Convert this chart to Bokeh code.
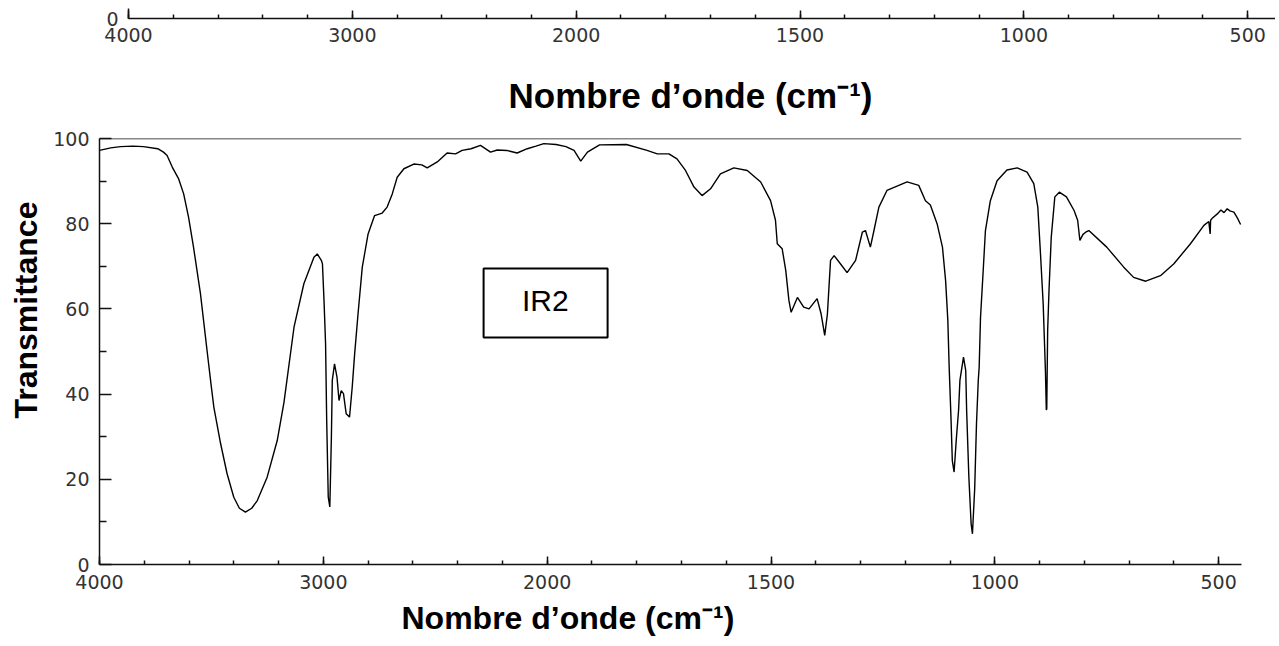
import numpy as np
from bokeh.plotting import figure
from bokeh.models import Range1d, FixedTicker, Span, BoxAnnotation, Label, Title
from bokeh.embed import file_html
from bokeh.resources import INLINE

# ---------------- data ----------------
wavenumber = [4000, 3950, 3906, 3850, 3804, 3740, 3714, 3698, 3675, 3647, 3624, 3602, 3580, 3549,
              3519, 3501, 3489, 3459, 3430, 3400, 3375, 3348, 3320, 3295, 3251, 3206, 3176, 3131,
              3087, 3042, 3027, 3009, 3004, 2997, 2990, 2985, 2978, 2971, 2964, 2960, 2950, 2939,
              2930, 2920, 2910, 2898, 2883, 2871, 2860, 2845, 2826, 2800, 2771, 2737, 2715, 2692,
              2670, 2640, 2596, 2560, 2536, 2491, 2447, 2409, 2380, 2340, 2298, 2253, 2223, 2180,
              2134, 2089, 2050, 2015, 1980, 1958, 1940, 1925, 1910, 1883, 1823, 1777, 1754, 1728,
              1710, 1691, 1672, 1654, 1635, 1613, 1583, 1553, 1523, 1501, 1490, 1486, 1475, 1467,
              1460, 1455, 1441, 1427, 1415, 1397, 1388, 1380, 1374, 1367, 1359, 1345, 1330, 1311,
              1296, 1289, 1278, 1270, 1259, 1241, 1196, 1170, 1155, 1144, 1129, 1117, 1110, 1105,
              1102, 1098, 1095, 1091, 1086, 1081, 1078, 1070, 1065, 1063, 1058, 1053, 1050, 1045,
              1041, 1037, 1035, 1032, 1026, 1021, 1010, 995, 973, 950, 928, 913, 904, 898, 892,
              887, 885, 884, 882, 879, 874, 866, 856, 840, 823, 815, 810, 803, 797, 790, 750, 712,
              690, 663, 630, 600, 563, 533, 522, 519, 518, 515, 503, 495, 488, 481, 475, 466, 458, 451]
transmittance = [97.2, 97.8, 98.1, 98.2, 98.1, 97.6, 96.8, 96.0, 93.3, 90.6, 87.0, 81.5, 74.5, 63.6,
                 50.0, 42.0, 36.9, 28.4, 21.3, 15.8, 13.2, 12.3, 13.2, 15.0, 20.5, 29.1, 38.0, 55.7,
                 65.9, 72.1, 72.9, 71.4, 70.6, 62.0, 51.8, 33.8, 15.8, 13.5, 29.9, 43.2, 47.1, 44.0,
                 38.5, 40.8, 40.1, 35.4, 34.6, 41.6, 49.5, 58.8, 69.8, 77.6, 81.9, 82.5, 83.9, 87.0,
                 90.9, 92.9, 94.0, 93.8, 93.1, 94.5, 96.6, 96.4, 97.2, 97.6, 98.4, 96.8, 97.3, 97.2,
                 96.6, 97.6, 98.2, 98.8, 98.6, 98.1, 97.2, 94.7, 96.8, 98.5, 98.6, 97.2, 96.4, 96.4,
                 95.2, 92.5, 88.6, 86.6, 88.2, 91.7, 93.1, 92.5, 89.8, 85.4, 80.8, 75.3, 74.1, 69.0,
                 62.0, 59.2, 62.7, 60.4, 60.0, 62.4, 58.8, 53.8, 58.8, 71.4, 72.5, 70.6, 68.5, 71.4,
                 78.0, 78.4, 74.5, 78.4, 83.9, 87.8, 89.8, 89.0, 85.4, 84.4, 80.0, 74.5, 66.7, 57.3,
                 46.3, 34.6, 24.4, 21.7, 29.5, 36.2, 43.2, 48.7, 45.5, 36.2, 20.5, 9.6, 7.2, 17.8,
                 33.0, 43.2, 46.3, 58.0, 69.0, 78.4, 85.4, 90.1, 92.6, 93.1, 92.1, 89.4, 83.9, 72.9, 61.2,
                 45.5, 36.3, 36.5, 55.0, 64.3, 76.8, 86.3, 87.4, 86.3, 83.1, 80.8, 76.1, 77.5, 78.0, 78.4, 74.5, 69.8,
                 67.4, 66.5, 67.8, 70.6, 75.3, 79.6, 80.5, 77.6, 80.8, 81.2, 82.3, 83.2, 82.6, 83.5, 83.0, 82.7, 81.3, 79.8]

tick_values = [4000, 3000, 2000, 1500, 1000, 500]
minor_values = list(range(4000, 1999, -200)) + list(range(1900, 399, -100))
y_ticks = [0, 20, 40, 60, 80, 100]
y_minor = [10, 30, 50, 70, 90]

xlabel = "Nombre d\u2019onde (cm\u207b\u00b9)"
ylabel = "Transmittance"
box_text = "IR2"

# ---------------- helpers ----------------
def to_u(wn):
    """Piecewise wavenumber scale of the spectrometer chart (4000-2000 drawn at half scale)."""
    wn = np.asarray(wn, dtype=float)
    return np.where(wn >= 2000, (4000 - wn) / 2.0, 1000 + (2000 - wn))

tick_u = [float(v) for v in to_u(tick_values)]
minor_u = [float(v) for v in to_u(minor_values)]
overrides = {u: str(w) for u, w in zip(tick_u, tick_values)}

TICK_FONT = "DejaVu Sans"
TICK_SIZE = "19px"
TICK_COLOR = "#333333"
LABEL_FONT = "Liberation Sans"
AX = "#111111"

def style_axis_common(ax):
    ax.axis_line_width = 1.5
    ax.major_tick_line_width = 1.5
    ax.minor_tick_line_width = 1.5
    ax.axis_line_color = AX
    ax.major_tick_line_color = AX
    ax.minor_tick_line_color = AX
    ax.major_label_text_font = TICK_FONT
    ax.major_label_text_font_size = TICK_SIZE
    ax.major_label_text_color = TICK_COLOR

def style_xaxis(ax):
    ax.ticker = FixedTicker(ticks=tick_u, minor_ticks=minor_u)
    ax.major_label_overrides = overrides
    ax.major_tick_in = 8
    ax.major_tick_out = 0
    ax.minor_tick_in = 4
    ax.minor_tick_out = 0
    style_axis_common(ax)
    ax.major_label_standoff = 10

W = 1275
FRAME_L, FRAME_R, FRAME_T, FRAME_B = 99, 1241, 138, 564

# ---------------- top strip (bottom of a previous chart) ----------------
H1 = 50
top = figure(width=W, height=H1, output_backend="svg", toolbar_location=None,
             x_range=Range1d(0, 2562), y_range=Range1d(0, 1),
             min_border_left=128, min_border_right=0, min_border_top=8, min_border_bottom=H1 - 18)
top.outline_line_color = None
top.grid.visible = False
top.background_fill_color = "white"
top.border_fill_color = "white"
style_xaxis(top.xaxis[0])
top.xaxis[0].major_label_standoff = 9
ya = top.yaxis[0]
ya.ticker = FixedTicker(ticks=[0], minor_ticks=[])
ya.major_tick_in = 0
ya.major_tick_out = 0
ya.minor_tick_in = 0
ya.minor_tick_out = 0
style_axis_common(ya)
ya.major_label_standoff = 10

# ---------------- main chart ----------------
H2 = 646 - H1
p = figure(width=W, height=H2, output_backend="svg", toolbar_location=None,
           x_range=Range1d(0, 2551), y_range=Range1d(0, 100),
           min_border_left=FRAME_L, min_border_right=W - FRAME_R,
           min_border_top=FRAME_T - H1, min_border_bottom=H2 - (FRAME_B - H1))
p.outline_line_color = None
p.grid.visible = False
p.background_fill_color = "white"
p.border_fill_color = "white"
style_xaxis(p.xaxis[0])

yl = p.yaxis[0]
yl.ticker = FixedTicker(ticks=y_ticks, minor_ticks=y_minor)
yl.major_tick_in = 12
yl.major_tick_out = 0
yl.minor_tick_in = 7
yl.minor_tick_out = 0
style_axis_common(yl)
yl.major_label_standoff = 10

p.add_layout(Span(location=100, dimension="width", line_color=AX, line_width=1.5))

p.line(to_u(wavenumber), transmittance, line_color="black", line_width=1.4)

p.add_layout(BoxAnnotation(left=858, right=1135, bottom=53.3, top=69.5,
                           fill_color="white", fill_alpha=1.0,
                           line_color="black", line_width=2, line_alpha=1.0))
p.add_layout(Label(x=996, y=62.0, text=box_text, text_font=LABEL_FONT,
                   text_font_size="30px", text_align="center", text_baseline="middle",
                   text_color="black"))

# axis titles (Title models allow a pixel offset along the frame)
p.add_layout(Title(text=xlabel, align="left", offset=508 - FRAME_L, standoff=47,
                   vertical_align="bottom",
                   text_font=LABEL_FONT, text_font_style="bold", text_font_size="35px",
                   text_color="black"), "above")
p.add_layout(Title(text=ylabel, align="left", offset=FRAME_B - 418, standoff=10,
                   vertical_align="top",
                   text_font=LABEL_FONT, text_font_style="bold", text_font_size="32px",
                   text_color="black"), "left")
p.add_layout(Title(text=xlabel, align="left", offset=401 - FRAME_L, standoff=14,
                   vertical_align="middle",
                   text_font=LABEL_FONT, text_font_style="bold", text_font_size="32px",
                   text_color="black"), "below")

open("out.html", "w").write(file_html([top, p], INLINE))
